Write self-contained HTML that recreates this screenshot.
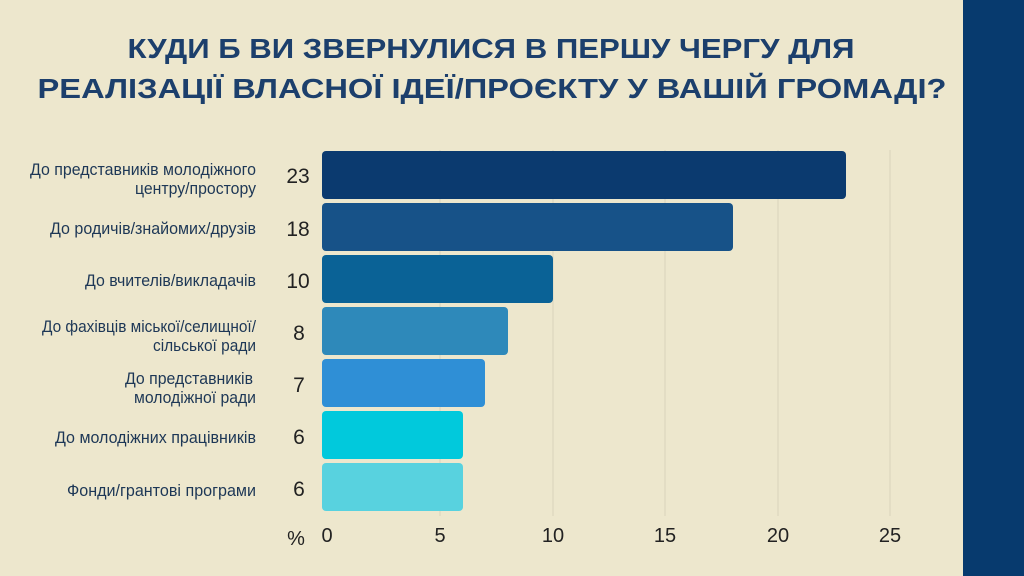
<!DOCTYPE html>
<html><head><meta charset="utf-8"><style>
html,body{margin:0;padding:0;background:#ede7cd;}
svg{display:block}
</style></head><body>
<svg width="1024" height="576" xmlns="http://www.w3.org/2000/svg" font-family="Liberation Sans, DejaVu Sans, sans-serif">
<rect width="1024" height="576" fill="#ede7cd"/>
<rect x="963" y="0" width="61" height="576" fill="#073a6e"/>
<g font-weight="bold" font-size="28" fill="#1c3f6c" text-anchor="middle">
<text x="491" y="58" textLength="727" lengthAdjust="spacingAndGlyphs">КУДИ Б ВИ ЗВЕРНУЛИСЯ В ПЕРШУ ЧЕРГУ ДЛЯ</text>
<text x="492" y="98" textLength="909" lengthAdjust="spacingAndGlyphs">РЕАЛІЗАЦІЇ ВЛАСНОЇ ІДЕЇ/ПРОЄКТУ У ВАШІЙ ГРОМАДІ?</text>
</g>
<g stroke="#d9d3bc" stroke-width="1">
<line x1="440" y1="150" x2="440" y2="516"/>
<line x1="553" y1="150" x2="553" y2="516"/>
<line x1="665" y1="150" x2="665" y2="516"/>
<line x1="778" y1="150" x2="778" y2="516"/>
<line x1="890" y1="150" x2="890" y2="516"/>
</g>
<g>
<rect x="322" y="151" width="524" height="48" rx="4" fill="#0b3a6f"/>
<rect x="322" y="203" width="411" height="48" rx="4" fill="#175288"/>
<rect x="322" y="255" width="231" height="48" rx="4" fill="#0a6296"/>
<rect x="322" y="307" width="186" height="48" rx="4" fill="#2e89ba"/>
<rect x="322" y="359" width="163" height="48" rx="4" fill="#2f8fd6"/>
<rect x="322" y="411" width="141" height="48" rx="4" fill="#01c9dc"/>
<rect x="322" y="463" width="141" height="48" rx="4" fill="#58d2df"/>
</g>
<g font-size="17" fill="#1d3756" lengthAdjust="spacingAndGlyphs">
<text x="30" y="175" textLength="226" lengthAdjust="spacingAndGlyphs">До представників молодіжного</text>
<text x="135" y="194" textLength="121" lengthAdjust="spacingAndGlyphs">центру/простору</text>
<text x="50" y="234" textLength="206" lengthAdjust="spacingAndGlyphs">До родичів/знайомих/друзів</text>
<text x="85" y="286" textLength="171" lengthAdjust="spacingAndGlyphs">До вчителів/викладачів</text>
<text x="42" y="332" textLength="214" lengthAdjust="spacingAndGlyphs">До фахівців міської/селищної/</text>
<text x="153" y="351" textLength="103" lengthAdjust="spacingAndGlyphs">сільської ради</text>
<text x="125" y="384" textLength="128" lengthAdjust="spacingAndGlyphs">До представників</text>
<text x="134" y="403" textLength="122" lengthAdjust="spacingAndGlyphs">молодіжної ради</text>
<text x="55" y="443" textLength="201" lengthAdjust="spacingAndGlyphs">До молодіжних працівників</text>
<text x="67" y="496" textLength="189" lengthAdjust="spacingAndGlyphs">Фонди/грантові програми</text>
</g>
<g font-size="21" fill="#222" text-anchor="middle">
<text x="298" y="183">23</text>
<text x="298" y="236">18</text>
<text x="298" y="288">10</text>
<text x="299" y="340">8</text>
<text x="299" y="392">7</text>
<text x="299" y="444">6</text>
<text x="299" y="496">6</text>
</g>
<g font-size="20" fill="#222" text-anchor="middle">
<text x="296" y="545">%</text>
<text x="327" y="542">0</text>
<text x="440" y="542">5</text>
<text x="553" y="542">10</text>
<text x="665" y="542">15</text>
<text x="778" y="542">20</text>
<text x="890" y="542">25</text>
</g>
</svg>
</body></html>
